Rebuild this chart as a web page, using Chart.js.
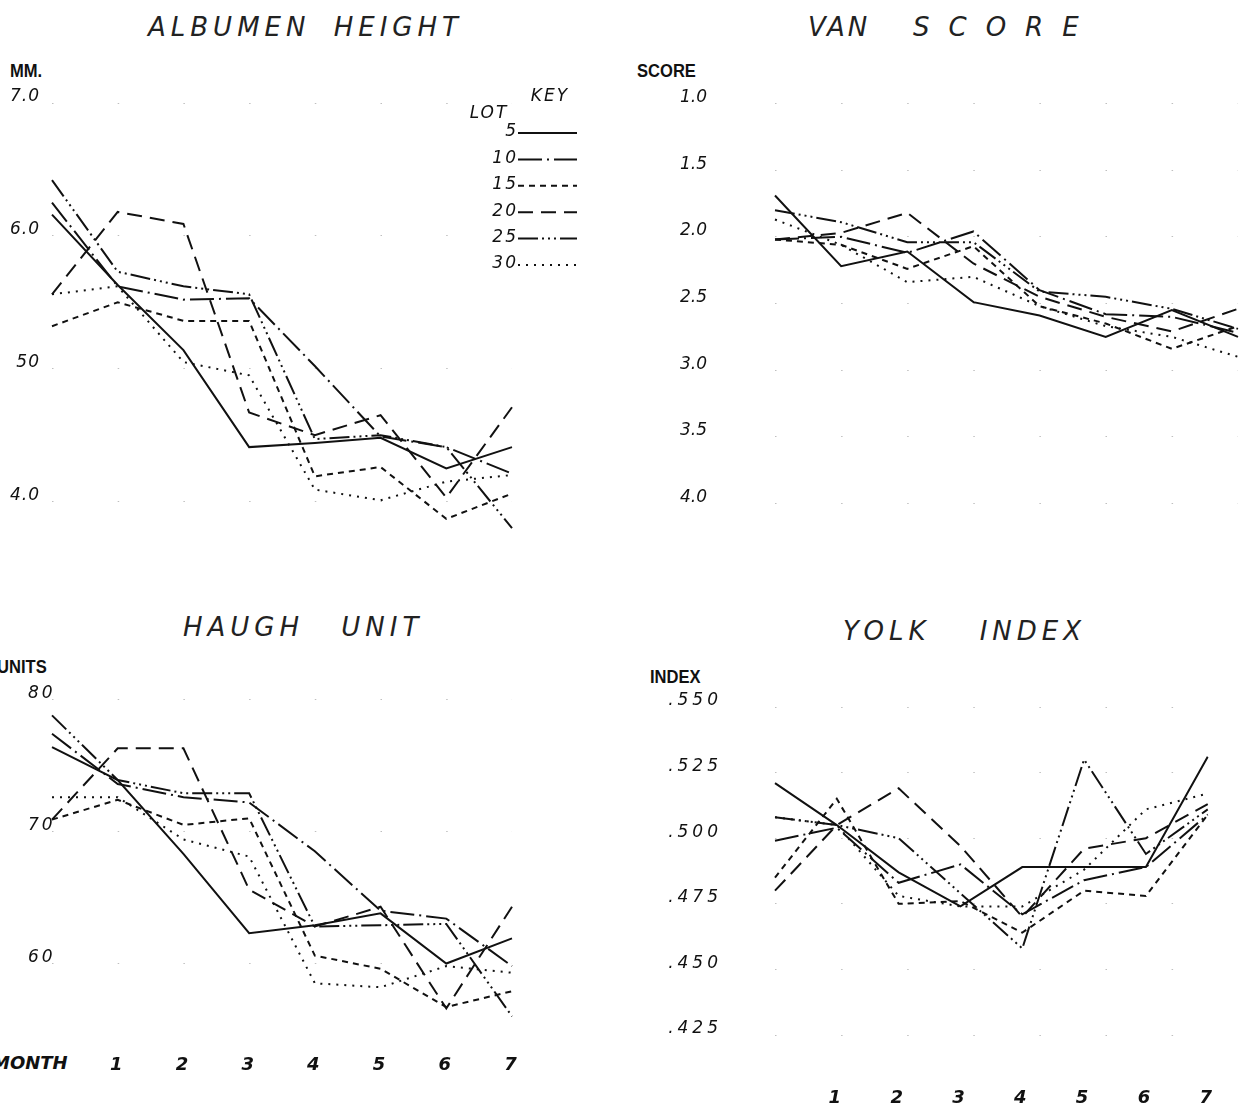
<!DOCTYPE html>
<html>
<head>
<meta charset="utf-8">
<script src="https://cdn.jsdelivr.net/npm/chart.js@4.4.1/dist/chart.umd.min.js"></script>
<style>
html,body{margin:0;padding:0;background:#fff;}
body{width:1259px;height:1110px;position:relative;overflow:hidden;font-family:"DejaVu Sans",sans-serif;color:#111;}
canvas{position:absolute;}
.title{position:absolute;font-family:"DejaVu Sans",sans-serif;font-style:italic;font-weight:200;font-size:26px;line-height:26px;letter-spacing:5px;white-space:pre;color:#222;}
.unit{position:absolute;font-family:"Liberation Sans",sans-serif;font-weight:bold;font-size:18px;line-height:18px;color:#111;transform:scaleX(0.92);transform-origin:left top;}
.month{position:absolute;font-family:"DejaVu Sans",sans-serif;font-style:italic;font-weight:bold;font-size:18px;line-height:18px;color:#111;}
</style>
</head>
<body>
<div class="title" style="left:148px;top:14px;word-spacing:10px">ALBUMEN HEIGHT</div>
<div class="title" style="left:808px;top:14px;letter-spacing:3px">VAN</div>
<div class="title" style="left:913px;top:14px;letter-spacing:19px">SCORE</div>
<div class="title" style="left:183px;top:614px;word-spacing:24px">HAUGH UNIT</div>
<div class="title" style="left:843px;top:618px;word-spacing:36px">YOLK INDEX</div>
<div class="unit" style="left:10px;top:62px">MM.</div>
<div class="unit" style="left:637px;top:62px">SCORE</div>
<div class="unit" style="left:-3px;top:658px">UNITS</div>
<div class="unit" style="left:650px;top:668px">INDEX</div>
<div class="month" style="left:-8px;top:1054px">MONTH</div>

<canvas id="cAlb" width="630" height="600" style="left:0px;top:0px"></canvas>
<canvas id="cVan" width="629" height="600" style="left:630px;top:0px"></canvas>
<canvas id="cHau" width="630" height="510" style="left:0px;top:600px"></canvas>
<canvas id="cYol" width="629" height="510" style="left:630px;top:600px"></canvas>

<script>
// ---------- data ----------
const months = ["0", "1", "2", "3", "4", "5", "6", "7"];
const monthTicks = ["", "1", "2", "3", "4", "5", "6", "7"];
const lots = ["5", "10", "15", "20", "25", "30"];

// rows: lot 5, 10, 15, 20, 25, 30 ; columns: month 0..7
const albumenHeight = [
  [6.16, 5.63, 5.14, 4.41, 4.44, 4.48, 4.25, 4.41],
  [6.25, 5.62, 5.52, 5.53, 5.02, 4.49, 4.41, 4.21],
  [5.32, 5.50, 5.36, 5.36, 4.19, 4.26, 3.87, 4.06],
  [5.56, 6.18, 6.09, 4.67, 4.50, 4.65, 4.03, 4.71],
  [6.42, 5.73, 5.62, 5.56, 4.47, 4.50, 4.41, 3.80],
  [5.56, 5.62, 5.05, 4.95, 4.09, 4.01, 4.15, 4.20]
];
const vanScore = [
  [1.69, 2.22, 2.11, 2.49, 2.59, 2.75, 2.55, 2.75],
  [2.02, 2.00, 2.12, 1.96, 2.40, 2.58, 2.60, 2.72],
  [2.02, 2.06, 2.24, 2.07, 2.52, 2.65, 2.84, 2.67],
  [2.02, 1.97, 1.82, 2.20, 2.45, 2.60, 2.71, 2.54],
  [1.80, 1.89, 2.04, 2.04, 2.41, 2.45, 2.54, 2.69],
  [1.87, 2.06, 2.34, 2.30, 2.52, 2.67, 2.75, 2.90]
];
const haughUnit = [
  [76.4, 73.9, 68.3, 62.3, 62.9, 63.8, 60.0, 61.9],
  [77.4, 73.6, 72.6, 72.2, 68.5, 64.0, 63.4, 59.8],
  [70.9, 72.4, 70.5, 71.0, 60.6, 59.6, 56.7, 57.9],
  [70.9, 76.3, 76.3, 65.6, 62.8, 64.3, 56.6, 64.3],
  [78.8, 73.9, 72.9, 72.9, 62.8, 62.9, 63.0, 56.0],
  [72.6, 72.6, 69.4, 68.1, 58.5, 58.2, 59.8, 59.3]
];
const yolkIndex = [
  [0.521, 0.505, 0.487, 0.474, 0.489, 0.489, 0.489, 0.531],
  [0.499, 0.504, 0.483, 0.490, 0.471, 0.484, 0.489, 0.509],
  [0.485, 0.515, 0.475, 0.476, 0.464, 0.480, 0.478, 0.509],
  [0.480, 0.505, 0.519, 0.497, 0.470, 0.496, 0.500, 0.513],
  [0.508, 0.505, 0.500, 0.479, 0.458, 0.530, 0.494, 0.511],
  [0.508, 0.505, 0.478, 0.474, 0.474, 0.488, 0.511, 0.517]
];

const albumenTickValues = [4, 5, 6, 7];
const albumenTickLabels = ["4.0", "50", "6.0", "7.0"];
const vanTickValues = [1, 1.5, 2, 2.5, 3, 3.5, 4];
const vanTickLabels = ["1.0", "1.5", "2.0", "2.5", "3.0", "3.5", "4.0"];
const haughTickValues = [60, 70, 80];
const haughTickLabels = ["60", "70", "80"];
const yolkTickValues = [0.425, 0.45, 0.475, 0.5, 0.525, 0.55];
const yolkTickLabels = [".425", ".450", ".475", ".500", ".525", ".550"];

// ---------- styles ----------
const lotDashes = [[], [24, 5, 2, 5], [6, 5], [15, 8], [20, 4, 2, 4, 2, 4, 2, 4], [2, 6]];
const INK = '#111';
const tickFont = {family: 'DejaVu Sans', size: 17, style: 'italic', weight: 'normal'};
const xFont = {family: 'DejaVu Sans', size: 18, style: 'italic', weight: 'bold'};

Chart.defaults.color = INK;

const lotKey = {
  id: 'lotKey',
  afterDraw(chart) {
    const ctx = chart.ctx;
    ctx.save();
    ctx.letterSpacing = '2px';
    ctx.fillStyle = INK;
    ctx.font = 'italic 17px "DejaVu Sans"';
    ctx.textBaseline = 'middle';
    ctx.textAlign = 'center';
    ctx.fillText('KEY', 550, 97);
    ctx.fillText('LOT', 489, 114);
    chart.data.datasets.forEach((ds, i) => {
      const y = 132 + i * 26.4;
      ctx.textAlign = 'right';
      ctx.fillStyle = INK;
      ctx.fillText(ds.label, 518, y);
      ctx.beginPath();
      ctx.setLineDash(ds.borderDash);
      ctx.lineWidth = 2;
      ctx.strokeStyle = INK;
      ctx.moveTo(518, y + 1);
      ctx.lineTo(577, y + 1);
      ctx.stroke();
    });
    ctx.restore();
  }
};

function spacingPlugin(px) {
  return {
    id: 'labelSpacing',
    beforeDraw(chart) { chart.ctx.letterSpacing = px + 'px'; },
    afterDraw(chart) { chart.ctx.letterSpacing = '0px'; }
  };
}

function makePanel(id, rows, cfg) {
  const datasets = rows.map((vals, i) => ({
    label: lots[i],
    data: vals,
    borderColor: INK,
    borderWidth: 2,
    borderDash: lotDashes[i],
    borderCapStyle: 'butt',
    pointRadius: 0,
    tension: 0,
    fill: false
  }));
  return new Chart(document.getElementById(id), {
    type: 'line',
    data: {labels: months, datasets},
    options: {
      responsive: false,
      animation: false,
      events: [],
      layout: {padding: cfg.pad},
      plugins: {legend: {display: false}, tooltip: {enabled: false}},
      scales: {
        x: {
          type: 'category',
          offset: false,
          display: cfg.showX,
          grid: {display: false},
          border: {display: false},
          ticks: {
            autoSkip: false, maxRotation: 0, font: xFont, color: INK,
            padding: cfg.xPad || 0,
            callback: (v, i) => monthTicks[i]
          },
          afterFit: s => { s.height = cfg.xh || 0; }
        },
        y: {
          type: 'linear',
          min: cfg.min, max: cfg.max, reverse: !!cfg.reverse,
          afterBuildTicks: s => { s.ticks = cfg.tickValues.map(v => ({value: v})); },
          afterFit: s => { s.width = cfg.yw; },
          grid: {color: 'rgba(0,0,0,0.25)', lineWidth: 1, drawTicks: false},
          border: {display: false, dash: [1.5, cfg.dx - 1.5]},
          ticks: {
            font: tickFont, color: INK, padding: cfg.yPad, labelOffset: -6,
            mirror: !!cfg.mirror,
            callback: (v, i) => cfg.tickLabels[i]
          }
        }
      }
    },
    plugins: [spacingPlugin(cfg.ls || 0)].concat(cfg.plugins || [])
  });
}

makePanel('cAlb', albumenHeight, {
  pad: {left: 0, top: 103, right: 118, bottom: 32},
  showX: false, min: 3.5, max: 7.0, yw: 52, yPad: 12, dx: 65.7, ls: 1,
  tickValues: albumenTickValues, tickLabels: albumenTickLabels,
  plugins: [lotKey]
});
makePanel('cVan', vanScore, {
  pad: {left: 0, top: 103.5, right: 21, bottom: 96.5},
  showX: false, min: 1.0, max: 4.0, reverse: true, yw: 145, yPad: 68, dx: 66.1, ls: 0,
  tickValues: vanTickValues, tickLabels: vanTickLabels
});
makePanel('cHau', haughUnit, {
  pad: {left: 0, top: 99.5, right: 118, bottom: 0},
  showX: true, xh: 80.5, xPad: 17, min: 55, max: 80, yw: 52, yPad: -24, mirror: true, dx: 65.7, ls: 3,
  tickValues: haughTickValues, tickLabels: haughTickLabels
});
makePanel('cYol', yolkIndex, {
  pad: {left: 0, top: 107, right: 21, bottom: 0},
  showX: true, xh: 75, xPad: 45, min: 0.425, max: 0.55, yw: 145, yPad: 53, dx: 66.1, ls: 4,
  tickValues: yolkTickValues, tickLabels: yolkTickLabels
});
</script>
</body>
</html>
